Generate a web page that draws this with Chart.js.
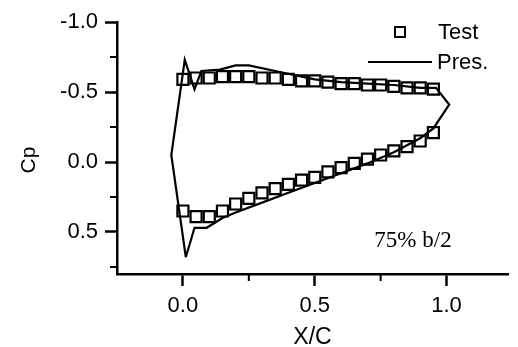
<!DOCTYPE html>
<html>
<head>
<meta charset="utf-8">
<script src="https://cdn.jsdelivr.net/npm/chart.js@4.4.1/dist/chart.umd.min.js"></script>
<style>
    html, body { margin: 0; padding: 0; background: #fff; }
</style>
</head>
<body>
<canvas id="cp-chart" width="518" height="347"></canvas>
<script>
// test points, upper surface
const testUpperX = [0.00, 0.05, 0.10, 0.15, 0.20, 0.25, 0.30, 0.35, 0.40, 0.45, 0.50, 0.55, 0.60, 0.65, 0.70, 0.75, 0.80, 0.85, 0.90, 0.95];
const testUpperCp = [-0.59, -0.60, -0.60, -0.61, -0.61, -0.61, -0.60, -0.60, -0.59, -0.58, -0.58, -0.57, -0.56, -0.56, -0.55, -0.55, -0.54, -0.53, -0.53, -0.52];

// test points, lower surface
const testLowerX = [0.00, 0.05, 0.10, 0.15, 0.20, 0.25, 0.30, 0.35, 0.40, 0.45, 0.50, 0.55, 0.60, 0.65, 0.70, 0.75, 0.80, 0.85, 0.90, 0.95];
const testLowerCp = [0.35, 0.39, 0.39, 0.35, 0.30, 0.26, 0.22, 0.19, 0.16, 0.13, 0.11, 0.07, 0.04, 0.01, -0.02, -0.05, -0.08, -0.11, -0.15, -0.21];

// prediction, one loop round the section
const presX = [0.011, -0.044, 0.007, 0.044, 0.07, 0.14, 0.20, 0.25, 0.35, 0.50, 0.60, 0.70, 0.80, 0.90, 0.96, 1.01, 0.95, 0.90, 0.80, 0.70, 0.60, 0.50, 0.40, 0.30, 0.20, 0.15, 0.09, 0.044, 0.011];
const presCp = [0.68, -0.05, -0.73, -0.52, -0.65, -0.66, -0.69, -0.69, -0.65, -0.59, -0.57, -0.56, -0.55, -0.53, -0.53, -0.41, -0.24, -0.17, -0.07, 0.01, 0.08, 0.15, 0.22, 0.29, 0.36, 0.40, 0.47, 0.47, 0.68];

const xTicks = [0, 0.5, 1.0];
const xMinor = [0.25, 0.75];
const yTicks = [-1.0, -0.5, 0.0, 0.5];
const yMinor = [-0.75, -0.25, 0.25, 0.75];

const sectionLabel = '75% b/2';
const yTitle = 'Cp';

const toPoints = (xs, ys) => xs.map((x, i) => ({x: x, y: ys[i]}));

const sans = '"Liberation Sans", Arial, sans-serif';
const tickFont = {family: sans, size: 22};

const minorTicks = {
    id: 'minorTicks',
    afterDraw(chart) {
        const ctx = chart.ctx;
        const xScale = chart.scales.x;
        const yScale = chart.scales.y;
        ctx.save();
        ctx.strokeStyle = '#000';
        ctx.lineWidth = 2;
        ctx.beginPath();
        xMinor.forEach(v => {
            const px = xScale.getPixelForValue(v);
            ctx.moveTo(px, xScale.top);
            ctx.lineTo(px, xScale.top + 7);
        });
        yMinor.forEach(v => {
            const py = yScale.getPixelForValue(v);
            ctx.moveTo(yScale.right, py);
            ctx.lineTo(yScale.right - 7, py);
        });
        ctx.stroke();
        ctx.restore();
    }
};

// legend in the top right corner, the section note and the Cp title
const insideText = {
    id: 'insideText',
    afterDraw(chart) {
        const ctx = chart.ctx;
        const sets = chart.data.datasets;
        ctx.save();
        ctx.strokeStyle = '#000';
        ctx.fillStyle = '#000';
        ctx.lineWidth = 2;
        ctx.strokeRect(395, 27, 10, 10);
        ctx.beginPath();
        ctx.moveTo(368, 62);
        ctx.lineTo(432, 62);
        ctx.stroke();
        ctx.font = '22px ' + sans;
        ctx.textBaseline = 'middle';
        ctx.fillText(sets[0].label, 438, 33);
        ctx.fillText(sets[1].label, 437, 63);
        ctx.font = '23px "Liberation Serif", "Times New Roman", serif';
        ctx.textAlign = 'center';
        ctx.fillText(sectionLabel, 413, 241);

        ctx.translate(29, 160);
        ctx.rotate(-Math.PI / 2);
        ctx.font = '21px ' + sans;
        ctx.fillText(yTitle, 0, 0);
        ctx.restore();
    }
};

new Chart(document.getElementById('cp-chart'), {
    type: 'scatter',
    data: {
        datasets: [
            {
                label: 'Test',
                data: toPoints(testUpperX, testUpperCp).concat(toPoints(testLowerX, testLowerCp)),
                showLine: false,
                pointStyle: 'rect',
                pointRadius: 7.8,
                pointBorderWidth: 2.2,
                pointBorderColor: '#000',
                pointBackgroundColor: 'rgba(0,0,0,0)'
            },
            {
                label: 'Pres.',
                data: toPoints(presX, presCp),
                showLine: true,
                borderColor: '#000',
                borderWidth: 2.2,
                pointRadius: 0,
                tension: 0
            }
        ]
    },
    options: {
        responsive: false,
        animation: false,
        devicePixelRatio: 1,
        layout: {padding: {top: 22, right: 0, bottom: 0, left: 0}},
        plugins: {
            legend: {display: false},
            tooltip: {enabled: false}
        },
        scales: {
            x: {
                type: 'linear',
                min: -0.25,
                max: 1.233,
                afterBuildTicks: scale => {
                    scale.ticks = xTicks.map(v => ({value: v}));
                },
                afterFit: scale => {
                    scale.height = 73;
                },
                ticks: {
                    color: '#000',
                    font: tickFont,
                    padding: 7,
                    callback: value => value.toFixed(1)
                },
                grid: {
                    drawOnChartArea: false,
                    tickLength: 12,
                    tickWidth: 2.5,
                    tickColor: '#000'
                },
                border: {color: '#000', width: 2.5},
                title: {
                    display: true,
                    text: 'X/C',
                    color: '#000',
                    font: {family: sans, size: 23, lineHeight: 1},
                    padding: {top: 0, bottom: -2}
                }
            },
            y: {
                type: 'linear',
                reverse: true,
                min: -1.0,
                max: 0.8,
                afterBuildTicks: scale => {
                    scale.ticks = yTicks.map(v => ({value: v}));
                },
                afterFit: scale => {
                    scale.width = 117;
                },
                ticks: {
                    color: '#000',
                    font: tickFont,
                    padding: 7,
                    callback: value => value.toFixed(1)
                },
                grid: {
                    drawOnChartArea: false,
                    tickLength: 12,
                    tickWidth: 2.5,
                    tickColor: '#000'
                },
                border: {color: '#000', width: 2.5}
            }
        }
    },
    plugins: [minorTicks, insideText]
});
</script>
</body>
</html>
